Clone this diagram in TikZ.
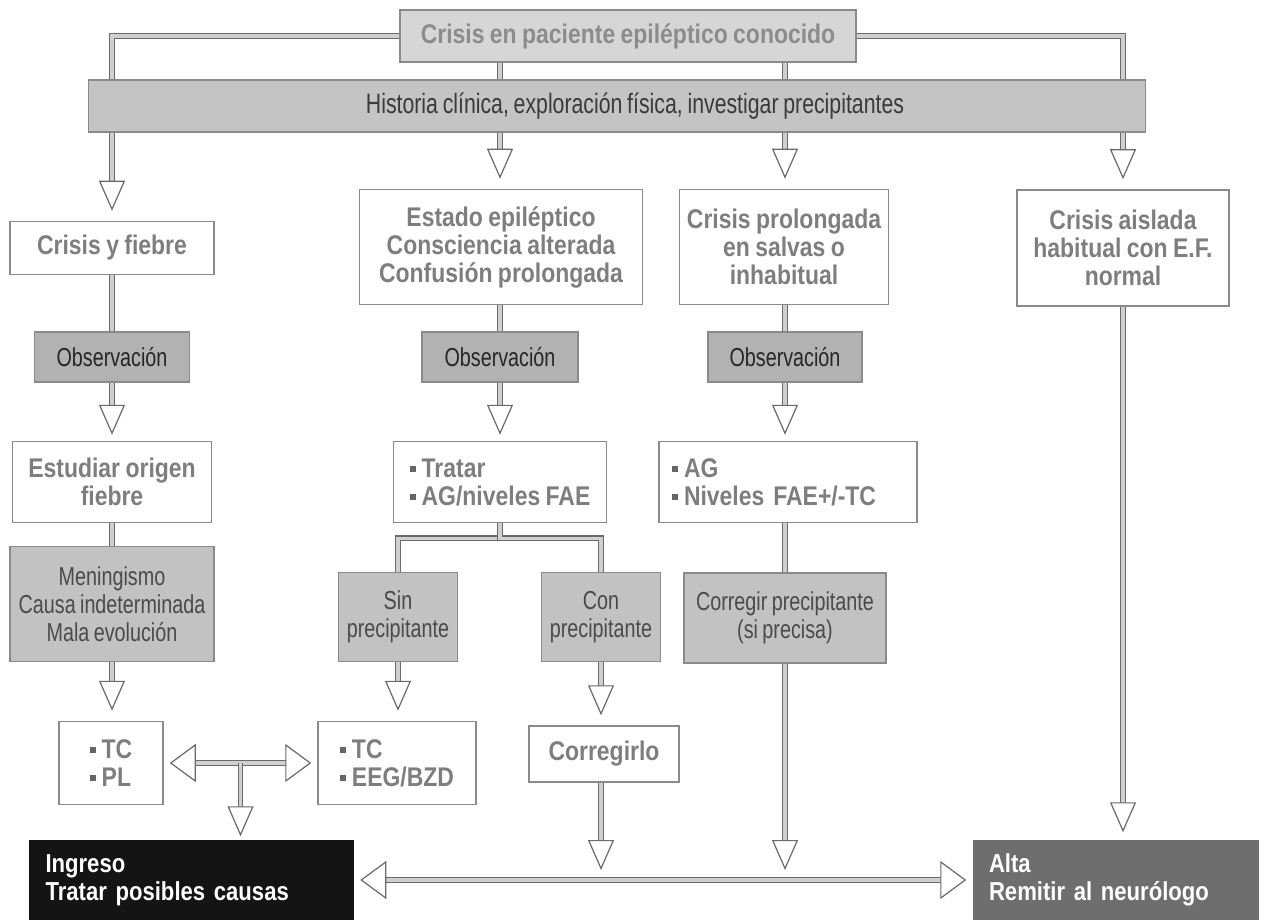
\documentclass[tikz,border=0pt]{standalone}
\usepackage{fontspec}
\setmainfont{Liberation Sans}
\newfontfamily\estrecha[FakeStretch=0.76, WordSpace=0.8]{Liberation Sans}
\newfontfamily\ancha[FakeStretch=0.85, WordSpace=0.85]{Liberation Sans}
\usetikzlibrary{arrows.meta, calc}
\definecolor{cTop}{HTML}{D6D6D6}
\definecolor{cTopTxt}{HTML}{8C8C8C}
\definecolor{cBarra}{HTML}{C4C4C4}
\definecolor{cBarraTxt}{HTML}{3A3A3A}
\definecolor{cObs}{HTML}{B2B2B2}
\definecolor{cSomb}{HTML}{C2C2C2}
\definecolor{cSombTxt}{HTML}{4A4A4A}
\definecolor{cMarco}{HTML}{8A8A8A}
\definecolor{cTxt}{HTML}{7E7E7E}
\definecolor{cIngreso}{HTML}{141414}
\definecolor{cAlta}{HTML}{6E6E6E}
\definecolor{cTubo}{HTML}{6A6A6A}
\definecolor{cTuboIn}{HTML}{D0D0D0}

\newcommand{\bala}{\textcolor{cTxt!80!black}{\rule[5pt]{6pt}{6pt}}\hspace{6pt}}

\begin{document}
\begin{tikzpicture}[
    x=1pt, y=-1pt, font=\fontsize{27}{28}\selectfont\ancha,
    blanco/.style={draw=cMarco, line width=1.5pt, fill=white, text=cTxt,
                   font=\fontsize{27}{28}\selectfont\ancha\bfseries, align=center,
                   inner sep=0pt},
    somb/.style={draw=cMarco, line width=1.5pt, fill=cSomb, text=cSombTxt,
                 font=\fontsize{26}{28}\selectfont\estrecha, align=center,
                 inner sep=0pt},
    obs/.style={somb, fill=cObs, text=black!85},
    lista/.style={blanco, align=left},
    final/.style={line width=1.5pt, text=white, align=left,
                  font=\fontsize{26}{28}\selectfont\ancha\bfseries,
                  inner ysep=0pt},
    tubo/.style={draw=cTubo, line width=1.2pt, double=cTuboIn,
                 double distance=3.5pt},
    flecha/.style={tubo, -{Triangle[length=30pt, width=26pt, fill=white]},
                   shorten >=10pt},
    flecha2/.style={tubo, {Triangle[length=26pt, width=38pt, fill=white]}-{Triangle[length=26pt, width=38pt, fill=white]},
                    shorten >=6pt, shorten <=6pt},
]
\useasboundingbox (0,0) rectangle (1264,920);

% ----- cabecera -----
\node[draw=cMarco, line width=1.5pt, fill=cTop, text=cTopTxt, font=\fontsize{27}{28}\selectfont\ancha\bfseries,
      minimum width=456, minimum height=52, inner sep=0pt] (top) at (628,36)
      {Crisis en paciente epiléptico conocido};
\node[draw=cMarco, line width=1.5pt, fill=cBarra, text=cBarraTxt, font=\fontsize{28}{28}\selectfont\estrecha,
      minimum width=1057, minimum height=52, inner sep=0pt] (barra) at (617,106)
      {\hspace*{36pt}Historia clínica, exploración física, investigar precipitantes};

% ----- primera fila -----
\node[blanco, minimum width=204, minimum height=53] (fiebre) at (112,248)
      {Crisis y fiebre};
\node[blanco, minimum width=283, minimum height=115] (estado) at (501,247)
      {Estado epiléptico\\Consciencia alterada\\Confusión prolongada};
\node[blanco, minimum width=209, minimum height=115] (prolong) at (784,247)
      {Crisis prolongada\\en salvas o\\inhabitual};
\node[blanco, minimum width=212, minimum height=116] (aislada) at (1123,248)
      {Crisis aislada\\habitual con E.F.\\normal};

% ----- observación -----
\node[obs, minimum width=155, minimum height=50] (obs1) at (112,357) {Observación};
\node[obs, minimum width=156, minimum height=50] (obs2) at (500,357) {Observación};
\node[obs, minimum width=154, minimum height=50] (obs3) at (785,357) {Observación};

% ----- estudio -----
\node[blanco, minimum width=199, minimum height=81] (estudiar) at (112,482)
      {Estudiar origen\\fiebre};
\node[lista, minimum width=213, minimum height=81] (tratar) at (500,482)
      {\bala Tratar\\\bala AG/niveles FAE};
\node[lista, text width=232, inner xsep=13, minimum height=81] (ag) at (788,482)
      {\bala AG\\\bala Niveles FAE+/-TC};

% ----- decisión -----
\node[somb, minimum width=204, minimum height=115] (mening) at (112,604)
      {Meningismo\\Causa indeterminada\\Mala evolución};
\node[somb, minimum width=119, minimum height=89] (sin) at (398,617)
      {Sin\\precipitante};
\node[somb, minimum width=119, minimum height=89] (con) at (601,617)
      {Con\\precipitante};
\node[somb, minimum width=202, minimum height=90] (corrprec) at (785,618)
      {Corregir precipitante\\(si precisa)};

% ----- pruebas -----
\node[lista, minimum width=104, minimum height=83] (tcpl) at (111,763)
      {\bala TC\\\bala PL};
\node[lista, minimum width=158, minimum height=83] (tceeg) at (397,763)
      {\bala TC\\\bala EEG/BZD};
\node[blanco, minimum width=150, minimum height=56] (corregirlo) at (604,754)
      {Corregirlo};

% ----- destino -----
\node[final, fill=cIngreso, text width=291, inner xsep=17, minimum height=80] (ingreso) at (191,880)
      {Ingreso\\Tratar posibles causas};
\node[final, fill=cAlta, text width=254, inner xsep=16, minimum height=80] (alta) at (1116,880)
      {Alta\\Remitir al neurólogo};

% ----- conexiones -----
\draw[tubo] (top.west) -| (barra.north -| fiebre.north);
\draw[tubo] (top.east) -| (barra.north -| aislada.north);
\draw[tubo] (top.south -| obs2) -- (barra.north -| obs2);
\draw[tubo] (top.south -| obs3) -- (barra.north -| obs3);

\draw[flecha] (barra.south -| fiebre.north) -- (fiebre.north);
\draw[flecha] (barra.south -| obs2) -- (estado.north -| obs2);
\draw[flecha] (barra.south -| obs3) -- (prolong.north -| obs3);
\draw[flecha] (barra.south -| aislada.north) -- (aislada.north);

\draw[tubo] (fiebre) -- (obs1);
\draw[tubo] (estado.south -| obs2) -- (obs2);
\draw[tubo] (prolong.south -| obs3) -- (obs3);

\draw[flecha, shorten >=6pt] (obs1) -- (estudiar);
\draw[flecha, shorten >=6pt] (obs2) -- (tratar);
\draw[flecha, shorten >=6pt] (obs3) -- (ag.north -| obs3);

\draw[tubo] (estudiar) -- (mening);
\draw[tubo] (tratar.south) -- ++(0,15) -| (sin.north);
\draw[tubo] (tratar.south) -- ++(0,15) -| (con.north);
\draw[tubo] (ag.south -| corrprec) -- (corrprec);

\draw[flecha] (mening) -- (tcpl.north -| mening.south);
\draw[flecha] (sin) -- (tceeg.north -| sin.south);
\draw[flecha] (con) -- (corregirlo.north -| con.south);

\coordinate (cruce) at ($(tcpl.east)!0.5!(tceeg.west)$);
\draw[flecha2] (tcpl.east) -- (tceeg.west);
\draw[flecha, shorten >=3pt] (cruce) -- (ingreso.north -| cruce);

\draw[flecha2] (ingreso.east) -- (alta.west);
\draw[flecha] (corregirlo.south -| con.south) -- (ingreso.east -| con.south);
\draw[flecha] (corrprec) -- (ingreso.east -| corrprec);
\draw[flecha, shorten >=7pt] (aislada) -- (alta.north -| aislada);

\end{tikzpicture}
\end{document}
